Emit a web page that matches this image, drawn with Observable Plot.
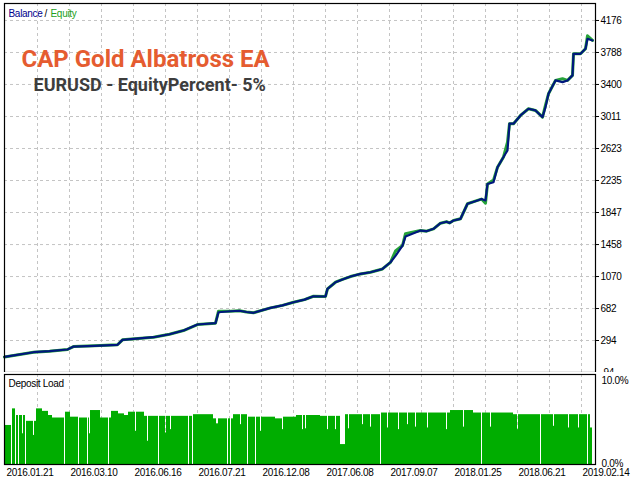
<!DOCTYPE html>
<html><head><meta charset="utf-8">
<script src="https://cdn.jsdelivr.net/npm/d3@7"></script>
<script src="https://cdn.jsdelivr.net/npm/@observablehq/plot@0.6"></script>
<style>
body{margin:0;background:#fff;}
#wrap{position:relative;width:640px;height:480px;overflow:hidden;background:#fff;}
#wrap svg{position:absolute;left:0;}
</style></head><body><div id="wrap"></div>
<script>
// trade index (x) and balance / equity values
const tradeIdx = [0,29,45,63,69,90,113,118,149,165,179,193,211,214,226,235,242,249,266,278,289,300,309,321,323,331,338,346,356,366,378,386,391,398,401,416,422,429,436,442,445,449,456,463,473,477,481,483,489,493,499,503,505,509,516,524,531,538,541,544,551,558,563,568,569,576,581,583,588];
const balance  = [95,152,165,185,221,230,242,302,334,370,415,488,504,637,649,655,640,630,690,720,758,790,831,828,921,1001,1035,1070,1102,1122,1162,1243,1320,1446,1555,1628,1620,1649,1717,1735,1720,1750,1770,1953,1993,2010,1993,2193,2214,2396,2520,2600,2924,2924,3024,3105,3085,3004,3125,3287,3449,3428,3449,3510,3772,3772,3833,3954,3934];
const equity   = [95,152,165,185,221,230,242,302,334,370,415,488,504,650,649,655,640,630,690,720,758,790,831,828,921,1001,1035,1070,1102,1122,1162,1243,1380,1446,1590,1628,1620,1649,1717,1735,1720,1750,1770,1953,1993,2010,1960,2193,2240,2396,2520,2700,2924,2924,3024,3105,3085,3004,3150,3287,3449,3470,3449,3510,3772,3772,3833,3990,3934];

// deposit load segments (start trade index, percent)
const loadStart = [0,1,7,8,11,12,14,15,18,19,21,22,29,30,32,38,44,48,60,61,66,74,75,83,84,85,86,96,104,105,107,114,120,124,131,132,140,143,144,154,155,161,162,166,167,184,185,188,189,209,212,214,223,224,226,227,229,236,237,243,244,251,252,256,257,271,278,279,292,298,299,301,302,316,323,324,331,332,336,341,344,345,358,359,366,367,376,377,383,384,394,395,403,404,411,412,423,424,442,443,446,459,460,469,477,478,486,487,509,513,514,536,537,549,550,564,565,574,575,583,584,586];
const loadValue = [6.7,4.7,0,6.7,0,5.9,0,5.9,3.7,5.9,0,5.2,3.5,5.2,6.7,6.4,5.9,5.6,0,6.3,5.7,0,5.6,0,5.6,3.7,6.5,5.6,0,5.6,6.4,6.1,5.9,6.3,4.0,6.3,5.8,2.8,5.8,0,5.8,3.8,5.8,4.2,5.8,0,5.8,0,6.0,5.5,4.9,5.5,0,5.5,0,5.5,6.0,4.8,6.0,0,5.7,0,5.7,4.0,5.7,5.5,4.2,5.7,5.9,4.2,5.9,4.3,5.9,5.8,4.2,5.8,4.2,5.8,2.4,6.0,4.3,6.0,4.8,6.0,4.5,6.0,0,6.2,4.4,6.2,4.2,6.2,4.8,6.2,4.5,6.2,4.4,6.2,4.2,6.2,6.5,4.5,6.5,6.2,0,6.2,4.5,6.2,6.0,4.2,6.0,0,6.0,4.6,6.0,4.4,6.0,4.4,6.0,0,6.0,4.4];
const loadEnd = 588;

const yTicks = [-94,294,682,1070,1458,1847,2235,2623,3011,3400,3788,4176];
const loadTicks = [0,10];
const dateTicks = [1,65,129,193,257,321,385,449,513,577];
const dateLabels = ["2016.01.21","2016.03.10","2016.06.16","2016.07.21","2016.12.08","2017.06.08","2017.09.07","2018.01.25","2018.06.21","2019.02.14"];
const titleText = "CAP Gold Albatross EA";
const subtitleText = "EURUSD - EquityPercent- 5%";

const font = '"Liberation Sans",Arial,sans-serif';
const gridT = d3.range(33, 591, 32);
const grid = {stroke:"#c4c4c4", strokeDasharray:"3,3", strokeWidth:1};
const baseStyle = {fontFamily:font, fontSize:"10px", letterSpacing:"-0.3px", background:"#fff", color:"#000", overflow:"visible"};

const bal = tradeIdx.map((t,i)=>({t, v: balance[i], e: equity[i]}));
const segs = loadStart.map((s,i)=>({x1:s, x2: i<loadStart.length-1 ? loadStart[i+1] : loadEnd, lo:0, v: loadValue[i]})).filter(d=>d.v>0);

const upper = Plot.plot({
  width:640, height:374, marginLeft:4, marginRight:45, marginTop:3, marginBottom:2,
  style:baseStyle,
  x:{domain:[0,591], axis:null},
  y:{domain:[-94,4382], axis:null},
  marks:[
    Plot.ruleY(yTicks.slice(1), grid),
    Plot.ruleX(gridT, grid),
    Plot.line(bal, {x:"t", y:"e", stroke:"#27a23a", strokeWidth:3}),
    Plot.line(bal, {x:"t", y:"v", stroke:"#00177d", strokeWidth:2.2}),
    Plot.axisY(yTicks, {anchor:"right", tickSize:3, tickPadding:2, tickFormat:d=>String(d), fontSize:10}),
    Plot.frame({stroke:"#000", strokeWidth:1.2}),
    Plot.text([titleText], {frameAnchor:"top-left", dx:17, dy:56, text:d=>d, fill:"#e55c30", fontSize:24, fontWeight:"bold", fontFamily:"Roboto", textAnchor:"start", lineAnchor:"middle"}),
    Plot.text([subtitleText], {frameAnchor:"top-left", dx:29, dy:82, text:d=>d, fill:"#3d3d3d", fontSize:18, fontWeight:"bold", fontFamily:"Roboto", textAnchor:"start", lineAnchor:"middle"}),
    Plot.text(["Balance"], {frameAnchor:"top-left", dx:4, dy:10, text:d=>d, fill:"#00008b", textAnchor:"start", lineAnchor:"middle"}),
    Plot.text(["/"], {frameAnchor:"top-left", dx:40, dy:10, text:d=>d, fill:"#000", textAnchor:"start", lineAnchor:"middle"}),
    Plot.text(["Equity"], {frameAnchor:"top-left", dx:46, dy:10, text:d=>d, fill:"#22a022", textAnchor:"start", lineAnchor:"middle"})
  ]
});
upper.style.top = "0px";
upper.querySelectorAll("text").forEach(t => {
  if (t.textContent === titleText || t.textContent === subtitleText) t.style.letterSpacing = "0px";
});

const lower = Plot.plot({
  width:640, height:108, marginLeft:4, marginRight:45, marginTop:2, marginBottom:16,
  style:baseStyle,
  x:{domain:[0,591], axis:null},
  y:{domain:[0,10.84], axis:null},
  marks:[
    Plot.ruleX(gridT, grid),
    Plot.rect(segs, {x1:"x1", x2:"x2", y1:"lo", y2:"v", fill:"#00ad00", inset:0}),
    Plot.axisY(loadTicks, {anchor:"right", tickSize:0, tickPadding:6, tickFormat:d=>d.toFixed(1)+"%", fontSize:10, dy:-1}),
    Plot.frame({stroke:"#000", strokeWidth:1.2}),
    Plot.text(["Deposit Load"], {frameAnchor:"top-left", dx:4, dy:9, text:d=>d, fill:"#000", textAnchor:"start", lineAnchor:"middle"}),
    Plot.text(dateTicks, {x:d=>d, frameAnchor:"bottom", dy:8, dx:1, text:(d,i)=>dateLabels[i], fill:"#000", textAnchor:"start", lineAnchor:"middle"})
  ]
});
lower.style.top = "372px";

const wrap = document.getElementById("wrap");
wrap.appendChild(upper);
wrap.appendChild(lower);
</script>
</body></html>
